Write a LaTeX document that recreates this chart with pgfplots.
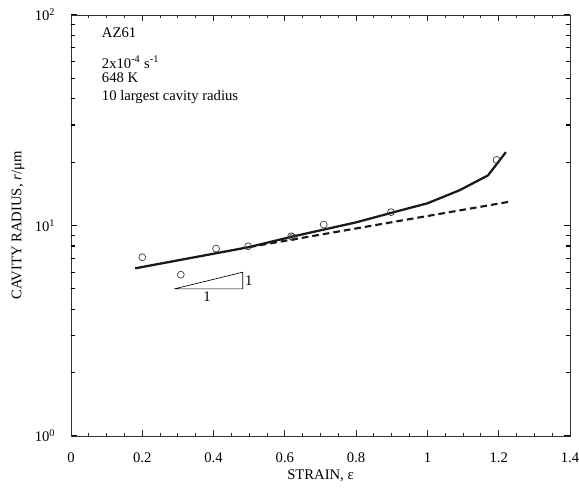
\documentclass[border=0pt]{standalone}
\usepackage{fontspec}
\setmainfont{Liberation Serif}
\usepackage{pgfplots}
\pgfplotsset{compat=1.18}
\begin{document}
\begin{tikzpicture}[font=\fontsize{11}{13.2}\selectfont]
\useasboundingbox (-53.25pt,-40.5pt) rectangle (381pt,327pt);
\begin{axis}[
  at={(0,0)}, anchor=south west,
  scale only axis, width=374.25pt, height=315.75pt,
  xmin=0, xmax=1.4, ymin=1, ymax=100, ymode=log,
  xtick={0,0.2,0.4,0.6,0.8,1,1.2,1.4},
  xticklabels={0,0.2,0.4,0.6,0.8,1,1.2,1.4},
  minor x tick num=3,
  ytick={1,10,100},
  yticklabels={10\textsuperscript{0},10\textsuperscript{1},10\textsuperscript{2}},
  extra y ticks={2,3,4,5,6,7,8,9,20,30,40,50,60,70,80,90},
  extra y tick labels={},
  tick align=inside, xtick pos=both, ytick pos=both,
  major tick length=4.5pt, minor tick length=2.5pt,
  tick style={black!85, line width=0.7pt},
  ytick style={black, line width=0.9pt},
  extra y tick style={tick style={black, line width=0.9pt}, major tick length=3pt},
  axis line style={black!80, line width=0.6pt},
  xticklabel style={anchor=center, yshift=-16.5pt},
  yticklabel style={anchor=east, xshift=-8.3pt},
  xlabel={STRAIN, ε},
  ylabel={CAVITY RADIUS, \textit{r}/μm},
  xlabel style={at={(axis description cs:0.5,0)}, anchor=center, yshift=-30pt},
  ylabel style={at={(axis description cs:-0.106,0.5)}, anchor=center},
  clip=false,
]
% solid fitted curve
\addplot[black!90, line width=1.7pt, line join=round] coordinates {
  (0.18,6.26) (0.50,7.90) (0.62,8.85) (0.80,10.35) (0.90,11.50)
  (1.00,12.75) (1.09,14.70) (1.17,17.30) (1.22,22.30)
};
% dashed extrapolation
\addplot[black!90, line width=1.6pt, dash pattern=on 5pt off 3pt] coordinates {
  (0.50,7.90) (1.23,12.97)
};
% measured points
\addplot[only marks, mark=o, mark size=2.6pt, mark options={line width=0.5pt, black!80}] coordinates {
  (0.20,7.07) (0.308,5.84) (0.407,7.77) (0.497,7.97) (0.618,8.89)
  (0.622,8.80) (0.709,10.1) (0.898,11.57) (1.194,20.5)
};
% slope triangle
\addplot[black, line width=0.5pt] coordinates {
  (0.29,5.0) (0.482,5.0) (0.482,6.0) (0.29,5.0)
};
\node at (axis cs:0.382,4.59) {1};
\node[anchor=west, inner sep=1pt] at (axis cs:0.484,5.47) {1};
% annotation text
\node[anchor=west, inner sep=0pt] at (rel axis cs:0.0615,0.957) {AZ61};
\node[anchor=west, inner sep=0pt] at (rel axis cs:0.0615,0.888) {2x10\textsuperscript{-4} s\textsuperscript{-1}};
\node[anchor=west, inner sep=0pt] at (rel axis cs:0.0615,0.850) {648 K};
\node[anchor=west, inner sep=0pt] at (rel axis cs:0.0615,0.805) {10 largest cavity radius};
\end{axis}
\end{tikzpicture}
\end{document}
